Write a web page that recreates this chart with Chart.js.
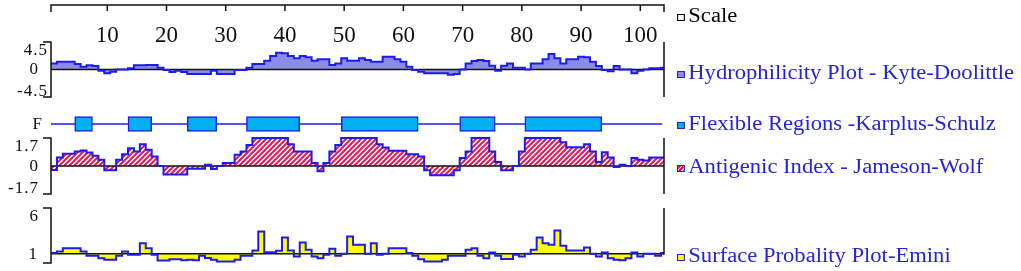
<!DOCTYPE html>
<html>
<head>
<meta charset="utf-8">
<script src="https://cdn.jsdelivr.net/npm/chart.js@4/dist/chart.umd.min.js"></script>
<style>
  html, body { margin: 0; padding: 0; background: #fff; }
  #wrap { position: relative; width: 1021px; height: 271px; overflow: hidden; }
  #c { position: absolute; left: 0; top: 0; }
  .leg { position: absolute; left: 677px; height: 20px; line-height: 20px; font-family: "Liberation Serif", "Times New Roman", serif; font-size: 20px; color: #2424d8; white-space: nowrap; transform: scaleX(1.13); transform-origin: 0 50%; }
  .leg i { display: inline-block; width: 5px; height: 5px; border: 1px solid #2424d8; margin-right: 3px; vertical-align: 1px; }
</style>
</head>
<body>
<div id="wrap">
  <canvas id="c" width="1021" height="271"></canvas>
  <div class="leg" style="top:5px;color:#000"><i style="border-color:#000;background:#fff"></i>Scale</div>
  <div class="leg" style="top:62px"><i style="background:#8c8ce6"></i>Hydrophilicity Plot - Kyte-Doolittle</div>
  <div class="leg" style="top:113px"><i style="background:#00b0f0"></i>Flexible Regions -Karplus-Schulz</div>
  <div class="leg" style="top:156px"><i style="background:repeating-linear-gradient(135deg,#e6195a 0 2px,#fff 2px 3px)"></i>Antigenic Index - Jameson-Wolf</div>
  <div class="leg" style="top:245px"><i style="background:#ffff00"></i>Surface Probality Plot-Emini</div>
</div>
<script>
// residue-by-residue values (104 residues)
var hydro = [
  1.0, 1.28, 1.28, 1.28, 0.9, 0.46, 0.68, 0.57, -0.2, -0.63,
  -0.35, 0, 0, 0.2, 0.68, 0.68, 0.74, 0.74, 0.3, -0.08,
  -0.4, -0.2, -0.4, -0.74, -0.74, -0.74, -0.74, -0.2, -0.74, -0.74,
  -0.74, -0.08, -0.1, 0.3, 0.9, 0.9, 1.45, 2.2, 2.75, 2.65,
  2.2, 1.83, 2.2, 2.0, 1.45, 1.66, 1.66, 0.74, 1.0, 1.83,
  1.45, 1.45, 1.83, 1.55, 1.28, 1.28, 2.1, 2.1, 1.66, 1.28,
  0.46, -0.08, -0.35, -0.63, -0.63, -0.63, -0.63, -0.85, -0.74, 0,
  1.0, 1.4, 1.55, 1.4, 0.63, -0.2, 0.63, 1.0, 0.3, 0.3,
  0, 1.0, 1.0, 1.66, 2.54, 1.83, 1.0, 1.66, 1.66, 2.1,
  2.0, 1.28, 0.57, -0.08, -0.3, 0.57, 0, 0, -0.63, -0.2,
  0, 0.2, 0.2, 0.3
];
var antigenic = [
  -0.24, 0.52, 0.74, 0.74, 0.88, 0.94, 0.82, 0.62, 0.38, -0.26,
  -0.26, 0.38, 0.72, 1.08, 0.88, 1.32, 0.98, 0.58, 0, -0.52,
  -0.52, -0.52, -0.52, -0.16, -0.16, -0.16, 0.08, -0.18, 0, 0.18,
  0.18, 0.68, 0.88, 1.28, 1.7, 1.7, 1.7, 1.7, 1.7, 1.7,
  1.32, 0.88, 0.88, 0.88, 0.18, -0.32, 0.18, 0.88, 1.28, 1.7,
  1.7, 1.7, 1.7, 1.7, 1.7, 1.32, 1.12, 0.92, 0.92, 0.92,
  0.72, 0.72, 0.58, -0.26, -0.56, -0.56, -0.56, -0.56, -0.26, 0.48,
  0.88, 1.7, 1.7, 1.7, 0.88, 0.24, -0.26, -0.26, 0, 0.88,
  1.7, 1.7, 1.7, 1.7, 1.7, 1.7, 1.44, 1.14, 1.14, 1.14,
  1.32, 0.88, 0.24, 0.84, 0.52, -0.06, 0.08, 0, 0.48, 0.38,
  0.34, 0.52, 0.52, 0.52
];
var surface = [
  1.1, 1.25, 1.62, 1.62, 1.62, 1.25, 0.78, 0.78, 0.53, 0.35,
  0.35, 0.78, 1.25, 0.9, 0.9, 2.16, 1.62, 0.9, 0.27, 0.27,
  0.42, 0.42, 0.3, 0.35, 0.3, 0.78, 0.55, 0.35, 0.16, 0.16,
  0.16, 0.35, 0.78, 0.78, 1.36, 3.44, 1.18, 1.18, 1.33, 2.78,
  1.36, 0.71, 2.24, 1.44, 0.71, 0.53, 0.9, 1.55, 0.78, 1.0,
  2.9, 1.98, 1.98, 1.0, 2.16, 0.9, 1.0, 1.62, 1.62, 1.62,
  1.1, 0.78, 0.42, 0.16, 0.16, 0.16, 0.35, 0.78, 0.78, 0.78,
  1.44, 1.62, 0.78, 0.53, 1.15, 0.78, 0.45, 0.45, 0.9, 0.71,
  1.0, 1.44, 2.78, 2.16, 1.98, 3.55, 1.87, 1.36, 1.36, 1.36,
  1.7, 1.0, 0.71, 1.15, 0.53, 0.35, 0.3, 0.53, 1.15, 0.71,
  1.0, 1.0, 0.78, 1.1
];
// flexible regions, first and last residue
var flexStart = [5, 14, 24, 34, 50, 70, 81];
var flexEnd = [7, 17, 28, 42, 62, 75, 93];

var xTicks = [10, 20, 30, 40, 50, 60, 70, 80, 90, 100];
var hydroTicks = [4.5, 0, -4.5];
var antigenTicks = [1.7, 0, -1.7];
var surfaceTicks = [6, 1];

var BLUE = '#1c1cf0';
var SERIF = '"Liberation Serif", "Times New Roman", serif';
var nRes = hydro.length;
var xMin = 0.5, xMax = nRes;

// pixel band of each panel on the page
var panels = [
  { id: 'yH', vTop: 4.5, vBot: -4.5, pxTop: 42, pxBot: 97, ticks: hydroTicks, lx: [3, 12, 3] },
  { id: 'yF', vTop: 1, vBot: -1, pxTop: 116, pxBot: 132 },
  { id: 'yA', vTop: 1.7, vBot: -1.7, pxTop: 138, pxBot: 194, ticks: antigenTicks, lx: [12, 12, 12] },
  { id: 'yS', vTop: 6, vBot: 0, pxTop: 208, pxBot: 263, ticks: surfaceTicks, lx: [12, 13], rightTo: 1 }
];

function steps(vals) {
  var pts = vals.map(function (v, i) { return { x: i + 0.5, y: v }; });
  pts.push({ x: vals.length + 0.5, y: vals[vals.length - 1] });
  return pts;
}

function hatch() {
  var c = document.createElement('canvas');
  c.width = 5; c.height = 5;
  var g = c.getContext('2d');
  g.fillStyle = '#fff';
  g.fillRect(0, 0, 5, 5);
  g.strokeStyle = '#e6195a';
  g.lineWidth = 2;
  g.beginPath();
  g.moveTo(-1, 6); g.lineTo(6, -1);
  g.moveTo(-3, 3); g.lineTo(3, -3);
  g.moveTo(2, 8); g.lineTo(8, 2);
  g.stroke();
  return g.createPattern(c, 'repeat');
}

var sideClip = { left: 0, right: 0, top: false, bottom: false };

var frame = {
  id: 'frame',
  afterDraw: function (chart) {
    var ctx = chart.ctx, a = chart.chartArea, sx = chart.scales.x;
    ctx.save();
    ctx.strokeStyle = '#111';
    ctx.lineWidth = 1.5;
    // scale bar on top
    ctx.beginPath();
    ctx.moveTo(a.left, 12); ctx.lineTo(a.left, 5); ctx.lineTo(a.right, 5); ctx.lineTo(a.right, 12);
    sx.ticks.forEach(function (t) {
      var px = sx.getPixelForValue(t.value);
      ctx.moveTo(px, 5); ctx.lineTo(px, 11);
    });
    ctx.stroke();

    ctx.fillStyle = '#111';
    ctx.font = '17px ' + SERIF;
    ctx.textAlign = 'right';
    ctx.textBaseline = 'middle';
    if ('letterSpacing' in ctx) ctx.letterSpacing = '1px';
    panels.forEach(function (p) {
      var s = chart.scales[p.id];
      if (!p.ticks) {
        ctx.fillText('F', a.left - 8, s.getPixelForValue(0) + 0.5);
        return;
      }
      var top = s.getPixelForValue(p.vTop), bot = s.getPixelForValue(p.vBot);
      ctx.beginPath();
      ctx.moveTo(a.left - 8, top); ctx.lineTo(a.left, top); ctx.lineTo(a.left, bot); ctx.lineTo(a.left - 8, bot);
      ctx.moveTo(a.right, top);
      ctx.lineTo(a.right, p.rightTo !== undefined ? s.getPixelForValue(p.rightTo) + 1 : bot);
      ctx.stroke();
      p.ticks.forEach(function (v, i) {
        var y = s.getPixelForValue(v);
        if (v === p.vTop) y += 8.5;
        else if (v === p.vBot) y -= 5;
        else y += 0.5;
        ctx.fillText(String(v), a.left - p.lx[i], y);
      });
    });
    ctx.restore();
  }
};

var ctx = document.getElementById('c').getContext('2d');
var scales = {
  x: {
    type: 'linear', position: 'top', min: xMin, max: xMax, bounds: 'data',
    grid: { display: false, drawTicks: false },
    border: { display: false },
    ticks: { color: '#111', padding: 1, maxRotation: 0, autoSkip: false, font: { family: SERIF, size: 23, lineHeight: 1 } },
    afterBuildTicks: function (s) { s.ticks = xTicks.map(function (v) { return { value: v }; }); }
  }
};
panels.forEach(function (p) {
  scales[p.id] = { type: 'linear', axis: 'y', display: false, bounds: 'data', offset: false, min: p.vBot, max: p.vTop };
});

var myChart = new Chart(ctx, {
  type: 'line',
  data: {
    datasets: [
      { label: 'hydro 0', data: [{ x: xMin, y: 0 }, { x: xMax, y: 0 }], yAxisID: 'yH', borderColor: '#111', borderWidth: 1.5, fill: false, order: 5 },
      { label: 'antigenic 0', data: [{ x: xMin, y: 0 }, { x: xMax, y: 0 }], yAxisID: 'yA', borderColor: '#111', borderWidth: 1.5, fill: false, order: 5 },
      { label: 'surface 1', data: [{ x: xMin, y: 1 }, { x: xMax, y: 1 }], yAxisID: 'yS', borderColor: '#111', borderWidth: 1.5, fill: false, order: 5 },
      { label: 'flex line', data: [{ x: xMin, y: 0 }, { x: xMax - 0.3, y: 0 }], yAxisID: 'yF', borderColor: BLUE, borderWidth: 1.5, fill: false, order: 5 },
      {
        label: 'Hydrophilicity Plot - Kyte-Doolittle', data: steps(hydro), yAxisID: 'yH', stepped: 'before',
        borderColor: BLUE, borderWidth: 2, backgroundColor: '#8c8ce6', fill: { value: 0 }, clip: sideClip, order: 2
      },
      {
        label: 'Antigenic Index - Jameson-Wolf', data: steps(antigenic), yAxisID: 'yA', stepped: 'before',
        borderColor: BLUE, borderWidth: 2, backgroundColor: hatch(), fill: { value: 0 }, clip: sideClip, order: 2
      },
      {
        label: 'Surface Probality Plot-Emini', data: steps(surface), yAxisID: 'yS', stepped: 'before',
        borderColor: BLUE, borderWidth: 2, backgroundColor: '#ffff00', fill: { value: 1 }, clip: sideClip, order: 2
      },
      {
        type: 'bar', indexAxis: 'y', label: 'Flexible Regions -Karplus-Schulz',
        data: flexStart.map(function (s, i) { return { x: [s - 0.5, flexEnd[i] + 0.5], y: 0 }; }),
        xAxisID: 'x', yAxisID: 'yF', backgroundColor: '#00b0f0', borderColor: BLUE, borderWidth: 1.5,
        borderSkipped: false, barThickness: 15, clip: false, order: 1
      }
    ]
  },
  options: {
    responsive: false,
    animation: false,
    layout: { padding: { left: 51, right: 357, top: 23, bottom: 5 } },
    elements: { point: { radius: 0 } },
    scales: scales,
    plugins: {
      legend: { display: false },
      tooltip: { enabled: false },
      filler: { drawTime: 'beforeDatasetsDraw' }
    }
  },
  plugins: [frame]
});

// place each panel's value range so it lands in its band
function fitPanels() {
  var a = myChart.chartArea;
  panels.forEach(function (p) {
    var k = (p.pxBot - p.pxTop) / (p.vTop - p.vBot);
    myChart.options.scales[p.id].min = p.vBot - (a.bottom - p.pxBot) / k;
    myChart.options.scales[p.id].max = p.vTop + (p.pxTop - a.top) / k;
  });
  myChart.update();
}
fitPanels();
</script>
</body>
</html>
